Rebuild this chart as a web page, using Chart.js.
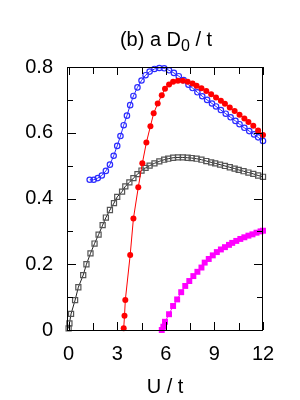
<!DOCTYPE html>
<html>
<head>
<meta charset="utf-8">
<script src="https://cdn.jsdelivr.net/npm/chart.js@4/dist/chart.umd.min.js"></script>
<style>
  html, body { margin: 0; padding: 0; background: #fff; }
  #wrap { width: 300px; height: 400px; }
</style>
</head>
<body>
<div id="wrap"><canvas id="dChart" width="300" height="400"></canvas></div>
<script>
// ---- values ----
const blueU = [1.3, 1.55, 1.8, 2.05, 2.3, 2.55, 2.78, 3.0, 3.2, 3.4, 3.6, 3.8, 4.0, 4.25, 4.5, 4.75, 5.0, 5.3, 5.6, 5.9, 6.2, 6.5, 6.8, 7.1,
               7.4, 7.65, 7.95, 8.25, 8.55, 8.85, 9.1, 9.4, 9.7, 10.0, 10.3, 10.55, 10.85, 11.15, 11.45, 11.7, 12.0];
const blueD = [0.457, 0.457, 0.462, 0.470, 0.484, 0.503, 0.530, 0.560, 0.590, 0.623, 0.652, 0.684, 0.712, 0.738, 0.759, 0.775, 0.786, 0.794, 0.797, 0.796, 0.790, 0.782, 0.772, 0.760,
               0.746, 0.736, 0.723, 0.711, 0.700, 0.689, 0.680, 0.669, 0.658, 0.647, 0.636, 0.626, 0.615, 0.605, 0.595, 0.586, 0.575];

const redU = [3.4, 3.45, 3.5, 3.8, 4.0, 4.3, 4.55, 4.8, 5.05, 5.25, 5.5, 5.75, 5.95, 6.2, 6.45, 6.75,
              7.05, 7.35, 7.65, 7.9, 8.2, 8.5, 8.8, 9.1, 9.4, 9.65, 9.95, 10.25, 10.55, 10.85, 11.1, 11.4, 11.7, 12.0];
const redD = [0.005, 0.043, 0.091, 0.228, 0.339, 0.434, 0.507, 0.570, 0.620, 0.659, 0.689, 0.714, 0.734, 0.747, 0.755, 0.758,
              0.758, 0.755, 0.750, 0.743, 0.735, 0.727, 0.717, 0.707, 0.697, 0.688, 0.677, 0.666, 0.655, 0.643, 0.633, 0.621, 0.607, 0.593];

const blackU = [0, 0.05, 0.15, 0.4, 0.6, 0.9, 1.1, 1.35, 1.6, 1.85, 2.1, 2.3, 2.55, 2.8, 3.0, 3.3, 3.5, 3.75, 4.0, 4.25, 4.5, 4.75,
                5.0, 5.3, 5.6, 5.9, 6.15, 6.45, 6.75, 7.05, 7.35, 7.6, 7.9, 8.2, 8.5, 8.8, 9.05, 9.35, 9.65, 9.95, 10.25, 10.5, 10.8, 11.1, 11.4, 11.7, 12.0];
const blackD = [0.005, 0.02, 0.049, 0.091, 0.13, 0.167, 0.2, 0.233, 0.263, 0.290, 0.319, 0.342, 0.365, 0.386, 0.405, 0.421, 0.437, 0.449, 0.462, 0.474, 0.485, 0.493,
                0.500, 0.507, 0.513, 0.518, 0.521, 0.524, 0.525, 0.525, 0.524, 0.523, 0.521, 0.518, 0.514, 0.510, 0.507, 0.503, 0.499, 0.495, 0.491, 0.487, 0.483, 0.479, 0.475, 0.470, 0.466];

const magentaU = [5.75, 5.85, 5.95, 6.2, 6.45, 6.7, 6.95, 7.2, 7.45, 7.7, 7.95, 8.2, 8.4, 8.65, 8.9, 9.15, 9.4, 9.65, 9.9, 10.1,
                  10.35, 10.6, 10.85, 11.1, 11.35, 11.6, 11.85, 12.0];
const magentaD = [0, 0.01, 0.025, 0.048, 0.073, 0.093, 0.115, 0.134, 0.149, 0.164, 0.177, 0.19, 0.205, 0.216, 0.227, 0.237, 0.245, 0.252, 0.259, 0.265,
                  0.271, 0.277, 0.282, 0.287, 0.291, 0.296, 0.300, 0.302];

// Tick positions
const xTicks = [0, 3, 6, 9, 12];
const xMinorTicks = [1.5, 4.5, 7.5, 10.5];
const yTicks = [0, 0.2, 0.4, 0.6, 0.8];
const yMinorTicks = [0.1, 0.3, 0.5, 0.7];

const FONT = '"Liberation Sans", Arial, Helvetica, sans-serif';

// Builds {x, y} pairs for a scatter dataset
function toPoints(us, ds) {
    return us.map((u, i) => ({ x: u, y: ds[i] }));
}

// ---- frame, inward ticks and the title with subscript ----
const framePlugin = {
    id: 'frame',
    afterDraw(chart) {
        const { ctx, chartArea: a, scales: { x, y } } = chart;
        ctx.save();
        ctx.strokeStyle = '#000';
        ctx.lineWidth = 1;
        ctx.strokeRect(a.left + 0.5, a.top + 0.5, a.right - a.left - 1, a.bottom - a.top);

        ctx.beginPath();
        const xTick = (v, len) => {
            const px = Math.round(x.getPixelForValue(v)) + 0.5;
            ctx.moveTo(px, a.bottom); ctx.lineTo(px, a.bottom - len);
            ctx.moveTo(px, a.top); ctx.lineTo(px, a.top + len);
        };
        const yTick = (v, len) => {
            const py = Math.round(y.getPixelForValue(v)) + 0.5;
            ctx.moveTo(a.left, py); ctx.lineTo(a.left + len, py);
            ctx.moveTo(a.right, py); ctx.lineTo(a.right - len, py);
        };
        xTicks.forEach(v => xTick(v, 8));
        xMinorTicks.forEach(v => xTick(v, 7));
        yTicks.forEach(v => yTick(v, 9));
        yMinorTicks.forEach(v => yTick(v, 6));
        ctx.stroke();

        // Title "(b) a D0 / t" with the 0 as a subscript
        const big = '20px ' + FONT, small = '16px ' + FONT;
        const parts = [['(b) a D', big, 0], ['0', small, 5], [' / t', big, 0]];
        let total = 0;
        parts.forEach(p => { ctx.font = p[1]; total += ctx.measureText(p[0]).width; });
        let cx = 166 - total / 2;
        ctx.fillStyle = '#000';
        ctx.textBaseline = 'alphabetic';
        parts.forEach(p => {
            ctx.font = p[1];
            ctx.fillText(p[0], cx, 46 + p[2]);
            cx += ctx.measureText(p[0]).width;
        });
        ctx.restore();
    }
};

new Chart(document.getElementById('dChart').getContext('2d'), {
    type: 'scatter',
    data: {
        datasets: [
            {
                data: toPoints(redU, redD),
                showLine: true, borderColor: '#ff0000', borderWidth: 1,
                pointStyle: 'circle', pointRadius: 3, pointBorderWidth: 0,
                pointBackgroundColor: '#ff0000', order: 1
            },
            {
                data: toPoints(magentaU, magentaD),
                showLine: true, borderColor: '#ff00ff', borderWidth: 1,
                pointStyle: 'rect', pointRadius: 4.2, pointBorderWidth: 0,
                pointBackgroundColor: '#ff00ff', order: 2
            },
            {
                data: toPoints(blackU, blackD),
                showLine: true, borderColor: '#222', borderWidth: 1,
                pointStyle: 'rect', pointRadius: 3.6, pointBorderWidth: 1.2,
                pointBorderColor: '#555', pointBackgroundColor: 'rgba(255,255,255,0)', order: 3
            },
            {
                data: toPoints(blueU, blueD),
                showLine: true, borderColor: '#2a2aff', borderWidth: 1,
                pointStyle: 'circle', pointRadius: 2.7, pointBorderWidth: 1.2,
                pointBorderColor: '#2a2aff', pointBackgroundColor: 'rgba(255,255,255,0)', order: 4
            }
        ]
    },
    options: {
        responsive: false,
        animation: false,
        events: [],
        clip: 4,
        layout: { padding: { top: 67, right: 37, left: 0, bottom: 0 } },
        scales: {
            x: {
                type: 'linear', min: -0.1, max: 12,
                afterBuildTicks: s => { s.ticks = xTicks.map(v => ({ value: v })); },
                afterFit: s => { s.height = 70; },
                grid: { display: false, drawTicks: false },
                border: { display: false },
                ticks: { color: '#000', padding: 12, font: { family: FONT, size: 20 }, maxRotation: 0 },
                title: { display: true, text: 'U / t', color: '#000', font: { family: FONT, size: 20 }, padding: { bottom: 1 } }
            },
            y: {
                type: 'linear', min: 0, max: 0.8,
                afterBuildTicks: s => { s.ticks = yTicks.map(v => ({ value: v })); },
                afterFit: s => { s.width = 67; },
                grid: { display: false, drawTicks: false },
                border: { display: false },
                ticks: {
                    color: '#000', padding: 14, font: { family: FONT, size: 20 },
                    callback: v => (v === 0 ? '0' : v.toFixed(1))
                }
            }
        },
        plugins: {
            legend: { display: false },
            title: { display: false },
            tooltip: { enabled: false }
        }
    },
    plugins: [framePlugin]
});
</script>
</body>
</html>
